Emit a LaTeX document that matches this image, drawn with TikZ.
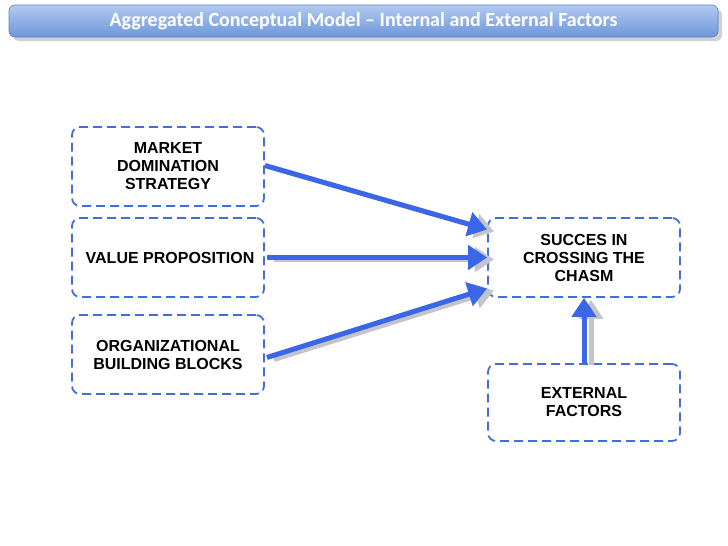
\documentclass[tikz,border=0pt]{standalone}
\usepackage{fontspec}
\setmainfont{Liberation Sans}
\newfontfamily\titlefont{Carlito}
\usetikzlibrary{arrows.meta}
\definecolor{dashblue}{RGB}{66,110,218}
\definecolor{arrblue}{RGB}{58,102,232}
\definecolor{shgray}{RGB}{196,196,202}
\definecolor{bartop}{RGB}{178,202,240}
\definecolor{barbot}{RGB}{108,150,218}
\definecolor{barline}{RGB}{90,130,200}
\tikzset{
  x=1pt, y=-1pt,
  factorbox/.style={draw=dashblue, line width=1.8pt, dash pattern=on 9pt off 5pt,
    rounded corners=8pt, minimum width=192pt, minimum height=79pt,
    align=center, inner sep=2pt,
    font=\fontsize{16}{18}\selectfont\bfseries},
  bluearrow/.style={draw=arrblue, line width=5pt,
    -{Triangle[length=19pt,width=24pt]}},
  shadowarrow/.style={draw=shgray, line width=5pt,
    -{Triangle[length=19pt,width=24pt]},
    transform canvas={xshift=7pt,yshift=-2pt}}
}
\begin{document}
\begin{tikzpicture}
\useasboundingbox (0,0) rectangle (728,546);
% title bar
\fill[shgray!80, rounded corners=6pt] (13,9) rectangle (722,41);
\node[draw=barline, line width=0.6pt, rounded corners=6pt, top color=bartop, bottom color=barbot,
  minimum width=709pt, minimum height=32pt, inner sep=0pt,
  text=white, font=\titlefont\fontsize{20}{22}\selectfont\bfseries]
  (title) at (363.5,21) {Aggregated Conceptual Model – Internal and External Factors};
% boxes
\node[factorbox] (market) at (168,166.5) {MARKET\\DOMINATION\\STRATEGY};
\node[factorbox] (value) at (168,257.5) {\hspace{4pt}VALUE PROPOSITION};
\node[factorbox] (org) at (168,354.5) {ORGANIZATIONAL\\BUILDING BLOCKS};
\node[factorbox] (succes) at (584,257.5) {SUCCES IN\\CROSSING THE\\CHASM};
\node[factorbox, minimum height=77pt] (external) at (584,402.5) {EXTERNAL\\FACTORS};
% shadows
\draw[shadowarrow] ([yshift=1pt]market.east) -- ([yshift=28pt]succes.west);
\draw[shadowarrow] ([xshift=2pt]value.east) -- (succes.west);
\draw[shadowarrow] ([xshift=2pt,yshift=-3pt]org.east) -- ([yshift=-31pt]succes.west);
\draw[shadowarrow] (external.north) -- (succes.south);
% arrows
\draw[bluearrow] ([yshift=1pt]market.east) -- ([yshift=28pt]succes.west);
\draw[bluearrow] ([xshift=2pt]value.east) -- (succes.west);
\draw[bluearrow] ([xshift=2pt,yshift=-3pt]org.east) -- ([yshift=-31pt]succes.west);
\draw[bluearrow] (external.north) -- (succes.south);
\end{tikzpicture}
\end{document}
